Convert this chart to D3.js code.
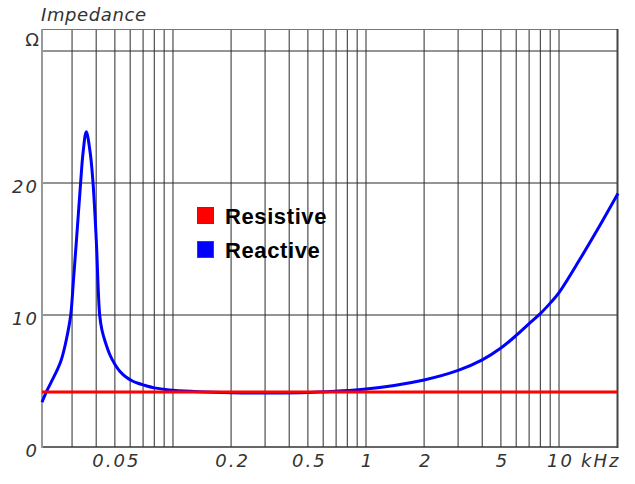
<!DOCTYPE html>
<html>
<head>
<meta charset="utf-8">
<script src="https://cdn.jsdelivr.net/npm/d3@7"></script>
<style>
  html, body { margin: 0; padding: 0; background: #fff; }
  svg { display: block; }
</style>
</head>
<body>
<svg id="chart" width="635" height="484"></svg>
<script>
// ---- data ----
const freqKHz = [0.02096, 0.02232, 0.02389, 0.02535, 0.02637, 0.02800, 0.02951, 0.03051, 0.03162, 0.03324, 0.03418, 0.03555,
  0.03728, 0.03851, 0.04005, 0.04172, 0.04285, 0.04443, 0.04716, 0.05006, 0.05314, 0.05707, 0.06131, 0.0659, 0.07,
  0.08, 0.09, 0.1, 0.2, 0.3, 0.5, 1, 2, 3, 4, 5, 6, 7, 8, 9, 10, 12.8, 15.8, 20.2];
const reactiveOhm = [3.39, 4.32, 5.18, 5.96, 6.59, 8.11, 9.98, 12.65, 15.68, 20.04, 22.25, 23.89,
  22.25, 20.04, 15.68, 9.98, 8.86, 8.03, 6.97, 6.25, 5.72, 5.30, 5.02, 4.83, 4.71,
  4.48, 4.37, 4.30, 4.11, 4.09, 4.13, 4.39, 5.08, 5.80, 6.60, 7.50, 8.45, 9.35, 10.1, 10.9, 11.7, 14.2, 16.45, 19.2];
const resistiveOhm = 4.17;
const xTickValues = [0.05, 0.2, 0.5, 1, 2, 5, 10];
const xTickLabels = ["0.05", "0.2", "0.5", "1", "2", "5", "10"];
const yTickValues = [0, 10, 20];
const yTickLabels = ["0", "10", "20"];
const yGridValues = [10, 20, 30];
const xGridValues = [0.03, 0.04, 0.05, 0.06, 0.07, 0.08, 0.09, 0.1, 0.2, 0.3, 0.4, 0.5, 0.6, 0.7, 0.8, 0.9,
  1, 2, 3, 4, 5, 6, 7, 8, 9, 10];
const legendItems = [{name: "Resistive", color: "#ff0000"}, {name: "Reactive", color: "#0000ff"}];

// ---- layout ----
const L = 42, R = 618, T = 29, B = 447;
const x = d3.scaleLog().domain([0.02096, 20.21]).range([L, R]);
const y = d3.scaleLinear().domain([0, 31.667]).range([B, T]);

const svg = d3.select("#chart");
const tickFont = "'DejaVu Sans', sans-serif";

// grid
const grid = svg.append("g");
grid.selectAll("line.v").data(xGridValues).join("line")
  .attr("x1", d => x(d)).attr("x2", d => x(d)).attr("y1", T).attr("y2", B)
  .attr("stroke", "#2a2a2a").attr("stroke-width", 1);
grid.selectAll("line.h").data(yGridValues).join("line")
  .attr("x1", L).attr("x2", R).attr("y1", d => y(d)).attr("y2", d => y(d))
  .attr("stroke", "#2a2a2a").attr("stroke-width", 1);

// frame
svg.append("line").attr("x1", L).attr("x2", R).attr("y1", T + 0.5).attr("y2", T + 0.5)
  .attr("stroke", "#777").attr("stroke-width", 1);
svg.append("line").attr("x1", L).attr("x2", R).attr("y1", B).attr("y2", B)
  .attr("stroke", "#333").attr("stroke-width", 1.5);
svg.append("line").attr("x1", R - 0.5).attr("x2", R - 0.5).attr("y1", T).attr("y2", B + 1)
  .attr("stroke", "#444").attr("stroke-width", 2);
svg.append("line").attr("x1", L).attr("x2", L).attr("y1", T).attr("y2", B + 1)
  .attr("stroke", "#999").attr("stroke-width", 2);

// axes (labels only)
const xAxis = d3.axisBottom(x).tickValues(xTickValues)
  .tickFormat((d, i) => xTickLabels[i]).tickSize(0);
const gx = svg.append("g").attr("transform", `translate(0,${B})`).call(xAxis);
gx.select(".domain").remove();
gx.selectAll("text")
  .attr("y", 20).attr("dy", 0).attr("dx", 1)
  .attr("font-family", tickFont).attr("font-style", "italic")
  .attr("font-size", 18).attr("letter-spacing", "2px").attr("fill", "#333");

const yAxis = d3.axisLeft(y).tickValues(yTickValues)
  .tickFormat((d, i) => yTickLabels[i]).tickSize(0);
const gy = svg.append("g").attr("transform", `translate(${L},0)`).call(yAxis);
gy.select(".domain").remove();
gy.selectAll("text")
  .attr("x", -3).attr("dy", 9)
  .attr("font-family", tickFont).attr("font-style", "italic")
  .attr("font-size", 18).attr("letter-spacing", "2px").attr("fill", "#333");

svg.append("text").attr("x", 581).attr("y", 467).text("kHz")
  .attr("font-family", tickFont).attr("font-style", "italic")
  .attr("font-size", 18).attr("letter-spacing", "2px").attr("fill", "#333");

svg.append("text").attr("x", 41).attr("y", 21).text("Impedance")
  .attr("font-family", tickFont).attr("font-style", "italic")
  .attr("font-size", 18).attr("letter-spacing", "0.6px").attr("fill", "#333");

svg.append("text").attr("x", 39).attr("y", 46).attr("text-anchor", "end").text("Ω")
  .attr("font-family", tickFont).attr("font-size", 18).attr("fill", "#333");

// reactive curve
const pts = freqKHz.map((f, i) => [f, reactiveOhm[i]]);
const line = d3.line().x(d => x(d[0])).y(d => y(d[1])).curve(d3.curveCatmullRom.alpha(0.5));
svg.append("path").datum(pts).attr("d", line)
  .attr("fill", "none").attr("stroke", "#0000ff").attr("stroke-width", 3)
  .attr("stroke-linejoin", "round");

// resistive line
svg.append("line").attr("x1", x.range()[0]).attr("x2", x.range()[1] - 1)
  .attr("y1", y(resistiveOhm)).attr("y2", y(resistiveOhm))
  .attr("stroke", "#ff0000").attr("stroke-width", 3);

// legend
const lg = svg.append("g");
legendItems.forEach((it, i) => {
  const yy = 207 + i * 34;
  lg.append("rect").attr("x", 197.5).attr("y", yy + 0.5).attr("width", 16).attr("height", 16)
    .attr("fill", it.color).attr("stroke", "#3030ff").attr("stroke-width", 1);
  lg.append("text").attr("x", 225).attr("y", yy + 16.5).text(it.name)
    .attr("font-family", "'Liberation Sans', Arial, sans-serif").attr("font-weight", "bold")
    .attr("font-size", 22).attr("letter-spacing", "0.6px").attr("fill", "#000");
});
</script>
</body>
</html>
